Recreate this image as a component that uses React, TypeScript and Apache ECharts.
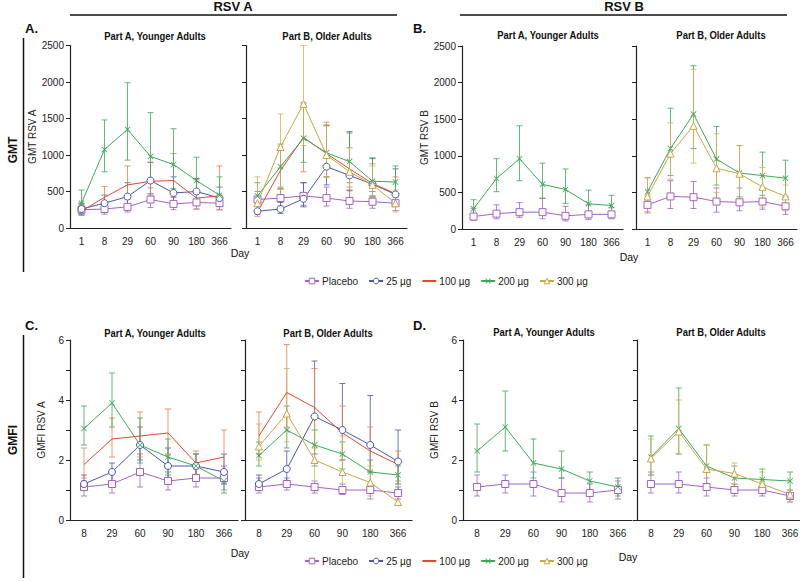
import React, { useEffect, useRef } from "react";
import * as echarts from "echarts";

const DAYS_GMT = ["1", "8", "29", "60", "90", "180", "366"];
const DAYS_GMFI = ["8", "29", "60", "90", "180", "366"];
const GROUPS = ["Placebo", "25 µg", "100 µg", "200 µg", "300 µg"];

// each row: [GMT/GMFI, lower 95% CI, upper 95% CI]
// A. GMT RSV A
const A_young_placebo = [[250,190,330],[260,190,350],[290,220,390],[390,280,550],[330,250,420],[350,260,470],[340,250,450]];
const A_young_25 = [[260,200,340],[340,250,450],[430,300,620],[650,470,900],[480,340,700],[500,380,680],[410,300,560]];
const A_young_100 = [[230,170,330],[420,280,570],[590,420,850],[640,450,900],[650,430,1020],[410,260,660],[440,250,850]];
const A_young_200 = [[340,180,520],[1075,770,1480],[1350,930,1990],[980,640,1580],[870,540,1360],[650,380,970],[450,300,700]];
const A_old_placebo = [[390,300,500],[410,300,560],[440,310,620],[410,300,560],[370,270,520],[360,270,500],[340,240,470]];
const A_old_25 = [[230,190,300],[260,200,350],[400,290,620],[840,590,1410],[720,510,1320],[600,440,960],[460,330,810]];
const A_old_100 = [[220,160,320],[790,530,1120],[1240,770,1720],[1020,700,1450],[810,560,1100],[610,420,880],[470,300,700]];
const A_old_200 = [[440,300,620],[840,540,1150],[1230,900,1700],[1030,700,1400],[910,620,1300],[640,430,950],[630,420,850]];
const A_old_300 = [[340,200,700],[1110,530,1560],[1700,1130,2500],[1000,700,1400],[770,520,1100],[590,400,850],[340,220,520]];
// B. GMT RSV B
const B_young_placebo = [[170,120,280],[210,140,330],[230,160,360],[230,140,420],[180,110,310],[200,130,330],[200,140,290]];
const B_young_200 = [[275,180,400],[690,510,960],[960,660,1410],[610,420,900],[540,350,820],[345,230,530],[320,200,460]];
const B_old_placebo = [[330,220,450],[445,280,660],[435,280,650],[375,230,560],[365,250,560],[375,270,560],[310,200,450]];
const B_old_200 = [[510,380,700],[1100,730,1650],[1570,1100,2230],[955,600,1400],[765,440,1140],[730,460,1050],[695,430,940]];
const B_old_300 = [[445,240,700],[1030,680,1450],[1410,900,2180],[830,500,1300],[755,330,1140],[575,300,840],[445,250,600]];
// C. GMFI RSV A
const C_young_placebo = [[1.1,0.8,1.3],[1.2,0.9,1.6],[1.6,1.1,2.2],[1.3,1.0,1.6],[1.4,1.1,1.7],[1.4,1.0,1.8]];
const C_young_25 = [[1.2,1.0,1.5],[1.6,1.3,1.9],[2.5,2.0,3.1],[1.8,1.3,2.4],[1.8,1.4,2.2],[1.6,1.2,2.2]];
const C_young_100 = [[1.85,1.4,2.4],[2.7,2.1,3.4],[2.8,2.1,3.6],[2.9,2.2,3.7],[1.9,1.5,2.3],[2.1,1.5,3.0]];
const C_young_200 = [[3.05,2.5,3.8],[3.9,3.1,4.9],[2.5,1.9,3.4],[2.1,1.5,2.7],[1.8,1.4,2.2],[1.3,0.9,1.6]];
const C_old_placebo = [[1.1,0.9,1.4],[1.2,1.0,1.4],[1.1,0.9,1.3],[1.0,0.85,1.2],[1.0,0.7,1.2],[0.9,0.7,1.1]];
const C_old_25 = [[1.2,1.0,1.5],[1.7,1.3,2.3],[3.45,2.2,5.3],[3.0,2.0,4.55],[2.5,1.6,4.15],[1.95,1.2,3.0]];
const C_old_100 = [[2.8,2.2,3.6],[4.25,3.1,5.85],[3.75,2.4,5.05],[2.9,2.0,3.8],[2.3,1.6,3.1],[1.85,1.3,2.3]];
const C_old_200 = [[2.15,1.8,2.6],[3.0,2.4,3.8],[2.5,1.8,3.0],[2.2,1.7,2.6],[1.6,1.2,2.0],[1.5,1.0,1.8]];
const C_old_300 = [[2.45,2.0,3.2],[3.55,2.6,5.05],[2.0,1.1,3.5],[1.6,1.0,2.8],[1.25,0.8,1.8],[0.6,0.5,0.9]];
// D. GMFI RSV B
const D_young_placebo = [[1.1,0.8,1.5],[1.2,0.9,1.5],[1.2,0.8,1.6],[0.9,0.6,1.4],[0.9,0.6,1.2],[1.0,0.7,1.3]];
const D_young_200 = [[2.3,1.6,3.2],[3.1,2.3,4.3],[1.9,1.4,2.7],[1.7,1.4,2.3],[1.3,1.0,1.6],[1.1,0.8,1.4]];
const D_old_placebo = [[1.2,0.9,1.6],[1.2,0.9,1.6],[1.1,0.8,1.4],[1.0,0.8,1.2],[1.0,0.8,1.2],[0.8,0.6,1.0]];
const D_old_200 = [[2.1,1.5,2.8],[3.05,2.2,4.4],[1.8,1.2,2.5],[1.4,1.1,1.8],[1.35,1.1,1.7],[1.3,0.9,1.6]];
const D_old_300 = [[2.05,1.5,2.7],[2.95,2.2,4.0],[1.7,1.0,2.5],[1.55,1.2,1.9],[1.2,0.9,1.6],[0.85,0.6,1.0]];

const FONT = "'Liberation Sans', Arial, sans-serif";
const COLORS: Record<string, string> = {
  "Placebo": "#a462c6",
  "25 µg": "#4b58a6",
  "100 µg": "#e0492e",
  "200 µg": "#3daa58",
  "300 µg": "#c9a646",
};
const ERR_COLORS: Record<string, string> = {
  "Placebo": "#a462c6",
  "25 µg": "#4b58a6",
  "100 µg": "#e8804a",
  "200 µg": "#3daa58",
  "300 µg": "#d2b25a",
};
const X_PATH = "path://M0,1L1,0L5,4L9,0L10,1L6,5L10,9L9,10L5,6L1,10L0,9L4,5Z";
const SYMBOLS: Record<string, string> = {
  "Placebo": "rect",
  "25 µg": "circle",
  "100 µg": "none",
  "200 µg": X_PATH,
  "300 µg": "triangle",
};

type Panel = {
  left: number; top: number; width: number; height: number;
  gmt: boolean; yName: string; showLabels: boolean;
  groups: [string, number[][]][];
};

const PANELS: Panel[] = [
  { left: 70, top: 45.5, width: 161, height: 182.5, gmt: true, yName: "GMT RSV A", showLabels: true,
    groups: [["Placebo", A_young_placebo], ["25 µg", A_young_25], ["100 µg", A_young_100], ["200 µg", A_young_200]] },
  { left: 246, top: 45.5, width: 161, height: 182.5, gmt: true, yName: "", showLabels: false,
    groups: [["Placebo", A_old_placebo], ["25 µg", A_old_25], ["100 µg", A_old_100], ["200 µg", A_old_200], ["300 µg", A_old_300]] },
  { left: 462, top: 46, width: 161, height: 183, gmt: true, yName: "GMT RSV B", showLabels: true,
    groups: [["Placebo", B_young_placebo], ["200 µg", B_young_200]] },
  { left: 636, top: 46, width: 161, height: 183, gmt: true, yName: "", showLabels: false,
    groups: [["Placebo", B_old_placebo], ["200 µg", B_old_200], ["300 µg", B_old_300]] },
  { left: 70, top: 340, width: 168, height: 180, gmt: false, yName: "GMFI RSV A", showLabels: true,
    groups: [["Placebo", C_young_placebo], ["25 µg", C_young_25], ["100 µg", C_young_100], ["200 µg", C_young_200]] },
  { left: 245, top: 340, width: 167, height: 180, gmt: false, yName: "", showLabels: false,
    groups: [["Placebo", C_old_placebo], ["25 µg", C_old_25], ["100 µg", C_old_100], ["200 µg", C_old_200], ["300 µg", C_old_300]] },
  { left: 463, top: 340, width: 169, height: 180, gmt: false, yName: "GMFI RSV B", showLabels: true,
    groups: [["Placebo", D_young_placebo], ["200 µg", D_young_200]] },
  { left: 637, top: 340, width: 167, height: 180, gmt: false, yName: "", showLabels: false,
    groups: [["Placebo", D_old_placebo], ["200 µg", D_old_200], ["300 µg", D_old_300]] },
];

function buildOption() {
  const grid: any[] = [];
  const xAxis: any[] = [];
  const yAxis: any[] = [];
  const series: any[] = [];
  const axisColor = "#222";

  PANELS.forEach((p, i) => {
    grid.push({ left: p.left, top: p.top, width: p.width, height: p.height, containLabel: false, outerBoundsMode: "none" });
    xAxis.push({
      type: "category", gridIndex: i, data: p.gmt ? DAYS_GMT : DAYS_GMFI, boundaryGap: true,
      axisLine: { onZero: false, lineStyle: { color: axisColor, width: 1.2 } },
      axisTick: { alignWithLabel: true, length: 4, lineStyle: { color: axisColor } },
      axisLabel: { fontSize: 10, color: "#222", margin: 8, fontFamily: FONT },
      splitLine: { show: false },
    });
    yAxis.push({
      type: "value", gridIndex: i, min: 0, max: p.gmt ? 2500 : 6, interval: p.gmt ? 500 : 1,
      axisLine: { show: true, lineStyle: { color: axisColor, width: 1.2 } },
      axisTick: { show: true, length: 4, lineStyle: { color: axisColor } },
      splitLine: { show: false },
      axisLabel: {
        show: p.showLabels, fontSize: 10, color: "#222", margin: 6, fontFamily: FONT,
        formatter: (v: number) => (p.gmt ? String(v) : (v % 2 === 0 ? String(v) : "")),
      },
      name: p.yName, nameLocation: "middle", nameGap: p.gmt ? 33 : 24,
      nameTextStyle: { fontSize: 10, color: "#222", fontFamily: FONT },
    });
    p.groups.forEach(([g, d]) => {
      const col = COLORS[g];
      const ecol = ERR_COLORS[g];
      series.push({
        type: "custom", name: "ci-" + g, xAxisIndex: i, yAxisIndex: i, z: 2, silent: true,
        encode: { x: 0, y: [1, 2] },
        data: d.map((r, k) => [k, r[1], r[2]]),
        renderItem: (_params: any, api: any) => {
          const x = api.value(0);
          const lo = api.coord([x, api.value(1)]);
          const hi = api.coord([x, api.value(2)]);
          const w = 3;
          const style = { stroke: ecol, lineWidth: 1, opacity: 0.8 };
          return {
            type: "group",
            children: [
              { type: "line", shape: { x1: lo[0], y1: lo[1], x2: hi[0], y2: hi[1] }, style },
              { type: "line", shape: { x1: lo[0] - w, y1: lo[1], x2: lo[0] + w, y2: lo[1] }, style },
              { type: "line", shape: { x1: hi[0] - w, y1: hi[1], x2: hi[0] + w, y2: hi[1] }, style },
            ],
          };
        },
      });
      const isX = g === "200 µg";
      series.push({
        type: "line", name: g, xAxisIndex: i, yAxisIndex: i, z: 3,
        data: d.map((r) => r[0]),
        symbol: SYMBOLS[g], symbolSize: isX ? 6 : 7, showSymbol: true,
        itemStyle: isX ? { color: col, borderWidth: 0 } : { color: "#fff", borderColor: col, borderWidth: 1 },
        lineStyle: { color: col, width: 1 },
      });
    });
  });

  const legendData = GROUPS.map((g) => {
    if (g === "100 µg") return { name: g, itemStyle: { opacity: 0 } };
    if (g === "200 µg") return { name: g, itemStyle: { borderWidth: 0 } };
    return { name: g, itemStyle: { color: "#fff", borderColor: COLORS[g], borderWidth: 1 } };
  });
  const legendBase = {
    data: legendData, left: 299, itemWidth: 14, itemHeight: 7, itemGap: 10,
    textStyle: { fontSize: 10, color: "#222", fontFamily: FONT, padding: [0, 0, 0, -2] },
    selectedMode: false,
  };

  const txt = (x: number, y: number, text: string, size: number, bold = true, align = "center", extra: any = {}) => ({
    type: "text", x, y, ...extra,
    style: { text, fontSize: size, fontWeight: bold ? "bold" : "normal", fontFamily: FONT, fill: "#111", textAlign: align, textVerticalAlign: "middle" },
  });
  const hline = (x1: number, x2: number, y: number) => ({
    type: "line", shape: { x1, y1: y, x2, y2: y }, style: { stroke: "#111", lineWidth: 1.5 },
  });
  const vline = (x: number, y1: number, y2: number) => ({
    type: "line", shape: { x1: x, y1, x2: x, y2 }, style: { stroke: "#111", lineWidth: 1.5 },
  });
  const titleScale = { scaleX: 0.9 };

  const graphic = [
    txt(233, 6, "RSV A", 13),
    hline(70, 397, 15),
    txt(624, 6, "RSV B", 13),
    hline(460, 787, 15),
    txt(25, 28, "A.", 13, true, "left"),
    txt(413, 28, "B.", 13, true, "left"),
    txt(25, 325, "C.", 13, true, "left"),
    txt(413, 325, "D.", 13, true, "left"),
    txt(155, 36, "Part A, Younger Adults", 10.5, true, "center", titleScale),
    txt(327, 36, "Part B, Older Adults", 10.5, true, "center", titleScale),
    txt(548, 35, "Part A, Younger Adults", 10.5, true, "center", titleScale),
    txt(721, 35, "Part B, Older Adults", 10.5, true, "center", titleScale),
    txt(155, 333, "Part A, Younger Adults", 10.5, true, "center", titleScale),
    txt(328, 333, "Part B, Older Adults", 10.5, true, "center", titleScale),
    txt(544, 332, "Part A, Younger Adults", 10.5, true, "center", titleScale),
    txt(721, 332, "Part B, Older Adults", 10.5, true, "center", titleScale),
    vline(23.5, 38, 272),
    vline(23.5, 335, 578),
    txt(13, 150, "GMT", 12, true, "center", { rotation: Math.PI / 2 }),
    txt(13, 440, "GMFI", 12, true, "center", { rotation: Math.PI / 2 }),
    txt(240, 253, "Day", 10.5, false),
    txt(629, 257, "Day", 10.5, false),
    txt(240, 553, "Day", 10.5, false),
    txt(628, 557, "Day", 10.5, false),
  ];

  return {
    animation: false,
    backgroundColor: "#fff",
    grid, xAxis, yAxis, series,
    legend: [
      { ...legendBase, top: 271 },
      { ...legendBase, top: 551 },
    ],
    graphic,
  };
}

export default function App() {
  const ref = useRef<HTMLDivElement>(null);
  useEffect(() => {
    if (!ref.current) return;
    const chart = echarts.init(ref.current, undefined, { renderer: "svg" });
    chart.setOption(buildOption() as any);
    return () => chart.dispose();
  }, []);
  return <div ref={ref} style={{ position: "absolute", left: 0, top: 0, width: 800, height: 581 }} />;
}
